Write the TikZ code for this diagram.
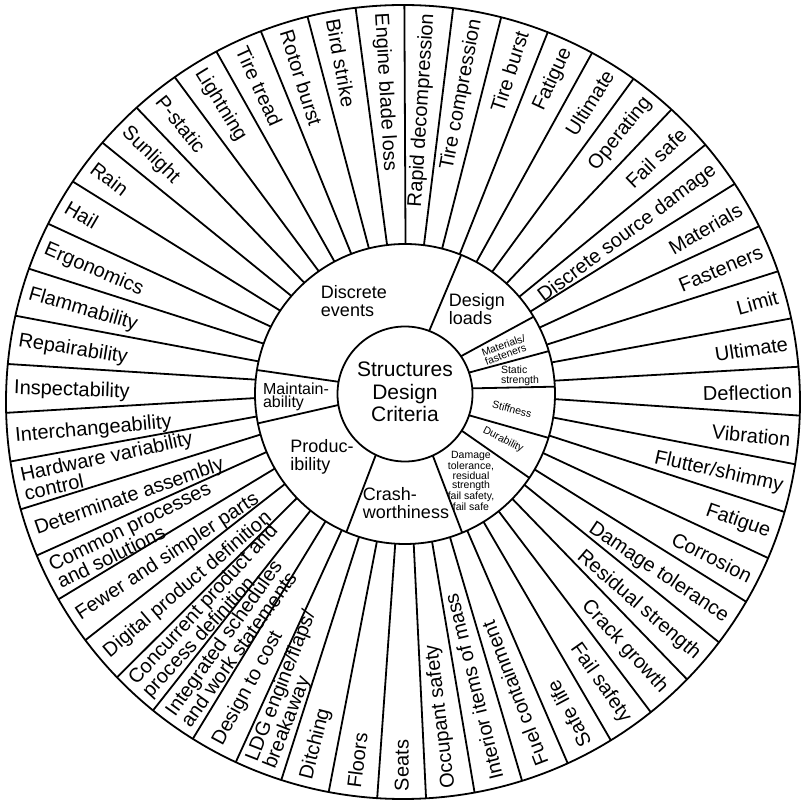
\documentclass[tikz,border=0pt]{standalone}
\usepackage{fontspec}
\setmainfont{Liberation Sans}
\usetikzlibrary{calc}
\tikzset{outlbl/.style={anchor=east, inner sep=0pt, align=left, font=\fontsize{20}{19}\selectfont}}
\tikzset{inlbl/.style={anchor=west, inner sep=0pt, align=left, font=\fontsize{20}{19}\selectfont}}
\tikzset{ringlbl/.style={inner sep=0pt, align=left, font=\fontsize{18}{17.5}\selectfont}}
\tikzset{tinylbl/.style={inner sep=0pt, align=left, font=\fontsize{10.5}{9.5}\selectfont}}

\begin{document}
\begin{tikzpicture}[x=1pt,y=1pt,line width=1.8pt]
    \path[fill=white,use as bounding box] (-403,-403) rectangle (403,402);
    \coordinate (O) at (0,0);
    \coordinate (M) at (2,8);
    \draw (O) circle (397);
    \draw (M) circle (150);
    \draw (M) circle (67.5);

    % outer ring
    \foreach \k in {0,...,50}{
      \pgfmathsetmacro\ang{89.8-\k*7.05882}
      \draw (M) ++(\ang:150) -- (\ang:397);
    }
    \foreach \k/\txt in {0/Rapid decompression, 1/Tire compression, 2/Tire burst, 3/Fatigue,
        4/Ultimate, 5/Operating, 6/Fail safe, 7/Discrete source damage, 8/Materials,
        9/Fasteners, 10/Limit, 11/Ultimate, 12/Deflection, 13/Vibration, 14/{Flutter/shimmy},
        15/Fatigue, 16/Corrosion, 17/Damage tolerance, 18/Residual strength,
        19/Crack growth, 20/Fail safety}{
      \pgfmathsetmacro\ang{89.8-(\k+0.5)*7.05882}
      \node[outlbl, rotate=\ang] (lbl\k) at (\ang:390) {\txt};
    }
    \foreach \k/\txt in {21/Safe life, 22/Fuel containment, 23/Interior items of mass,
        24/Occupant safety, 25/Seats, 26/Floors, 27/Ditching,
        28/{LDG engine/flaps/\\breakaway}, 29/Design to cost,
        30/{Integrated schedules\\and work statements},
        31/{Concurrent product and\\process definition}, 32/Digital product definition,
        33/Fewer and simpler parts, 34/{Common processes\\and solutions},
        35/Determinate assembly, 36/{Hardware variability\\control},
        37/Interchangeability, 38/Inspectability, 39/Repairability, 40/Flammability,
        41/Ergonomics, 42/Hail, 43/Rain, 44/Sunlight, 45/P-static, 46/Lightning,
        47/Tire tread, 48/Rotor burst, 49/Bird strike, 50/Engine blade loss}{
      \pgfmathsetmacro\ang{89.8-(\k+0.5)*7.05882}
      \pgfmathsetmacro\rot{\ang+180}
      \node[inlbl, rotate=\rot] (lbl\k) at (\ang:390) {\txt};
    }

    % inner ring
    \foreach \a/\b in {69/68, 34/31, 18.5/16.6, 4.8/2.8, -18.4/-17, -32.9/-34,
        -65.7/-67.6, -115.6/-113, 189.4/191.3, 169.6/170.8}
      \draw (M) ++(\a:67.5) -- ($(M)+(\b:150)$);
    \node[ringlbl] (disc) at (-49,101) {Discrete\\events};
    \node[ringlbl] (loads) at (74,93) {Design\\loads};
    \node[tinylbl, rotate=20] (matl) at (102,52) {Materials/\\fasteners};
    \node[tinylbl] (stat) at (117,26) {Static\\strength};
    \node[tinylbl, rotate=-15] (stiff) at (109,-7) {Stiffness};
    \node[tinylbl, rotate=-27] (dura) at (100,-38) {Durability};
    \node[tinylbl, align=center] (dmg) at (68,-79)
      {Damage\\tolerance,\\residual\\strength\\fail safety,\\fail safe};
    \node[ringlbl] (crash) at (3,-101) {Crash-\\worthiness};
    \node[ringlbl] (prod) at (-81,-55) {Produc-\\ibility};
    \node[ringlbl, font=\fontsize{16}{13}\selectfont] (maint) at (-107,5.5) {Maintain-\\ability};

    % centre
    \node[align=center, inner sep=0pt, font=\fontsize{21}{22.5}\selectfont] (sdc) at (2,10)
      {Structures\\Design\\Criteria};
\end{tikzpicture}
\end{document}
